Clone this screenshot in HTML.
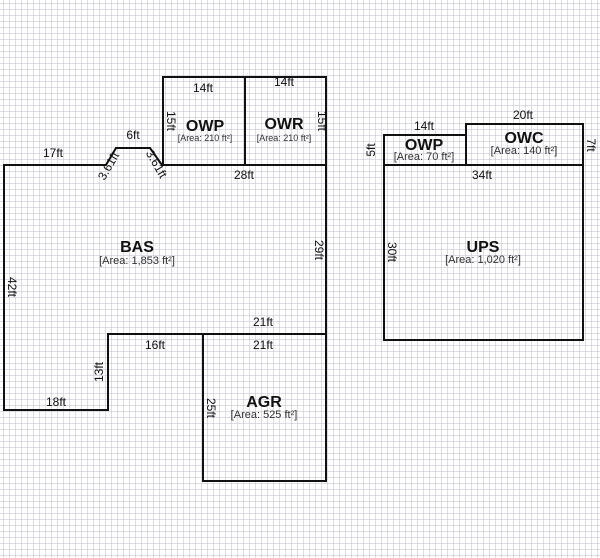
<!DOCTYPE html>
<html><head><meta charset="utf-8"><style>
html,body{margin:0;padding:0;background:#fff;}
svg{display:block;}
text{font-family:"Liberation Sans",sans-serif;fill:#111;}
.d{font-size:12px;}
.t{font-size:16px;font-weight:bold;}
.a{font-size:11px;fill:#333;}
</style></head><body>
<svg width="600" height="558" viewBox="0 0 600 558" xmlns="http://www.w3.org/2000/svg">
<defs>
<pattern id="g" x="3" y="3" width="6" height="6" patternUnits="userSpaceOnUse">
<path d="M0 0H6M0 0V6" stroke="#bcbccf" stroke-width="1" fill="none"/>
</pattern>
</defs>
<rect width="600" height="558" fill="#fff"/>
<rect width="600" height="558" fill="url(#g)"/>
<g fill="none" stroke="#111" stroke-width="2">
<path d="M4 165H106L116 148H150L162 165H326V334H108V410H4Z"/>
<rect x="163" y="77" width="82" height="88"/>
<rect x="245" y="77" width="81" height="88"/>
<rect x="203" y="334" width="123" height="147"/>
<rect x="384" y="165" width="199" height="175"/>
<rect x="384" y="135" width="82" height="30"/>
<rect x="466" y="124" width="117" height="41"/>
</g>
<g class="d" text-anchor="middle">
<text x="53" y="157">17ft</text>
<text x="133" y="139">6ft</text>
<text x="203" y="92">14ft</text>
<text x="284" y="86">14ft</text>
<text x="244" y="179">28ft</text>
<text x="263" y="326">21ft</text>
<text x="263" y="349">21ft</text>
<text x="155" y="349">16ft</text>
<text x="56" y="406">18ft</text>
<text x="424" y="130">14ft</text>
<text x="523" y="119">20ft</text>
<text x="482" y="179">34ft</text>
<text transform="translate(112,168) rotate(-60)">3.61ft</text>
<text transform="translate(153,166) rotate(60)">3.61ft</text>
<text transform="translate(167,121) rotate(90)">15ft</text>
<text transform="translate(318,121) rotate(90)">15ft</text>
<text transform="translate(8,287) rotate(90)">42ft</text>
<text transform="translate(315,250) rotate(90)">29ft</text>
<text transform="translate(103,372) rotate(-90)">13ft</text>
<text transform="translate(207,408) rotate(90)">25ft</text>
<text transform="translate(388,252) rotate(90)">30ft</text>
<text transform="translate(375,150) rotate(-90)">5ft</text>
<text transform="translate(587,145) rotate(90)">7ft</text>
</g>
<g text-anchor="middle">
<text class="t" x="205" y="131">OWP</text>
<text class="a" x="205" y="141" style="font-size:9px">[Area: 210 ft²]</text>
<text class="t" x="284" y="129">OWR</text>
<text class="a" x="284" y="141" style="font-size:9px">[Area: 210 ft²]</text>
<text class="t" x="137" y="252">BAS</text>
<text class="a" x="137" y="264">[Area: 1,853 ft²]</text>
<text class="t" x="264" y="407">AGR</text>
<text class="a" x="264" y="418">[Area: 525 ft²]</text>
<text class="t" x="483" y="252">UPS</text>
<text class="a" x="483" y="263">[Area: 1,020 ft²]</text>
<text class="t" x="424" y="150">OWP</text>
<text class="a" x="424" y="160">[Area: 70 ft²]</text>
<text class="t" x="524" y="143">OWC</text>
<text class="a" x="524" y="154">[Area: 140 ft²]</text>
</g>
</svg>
</body></html>
